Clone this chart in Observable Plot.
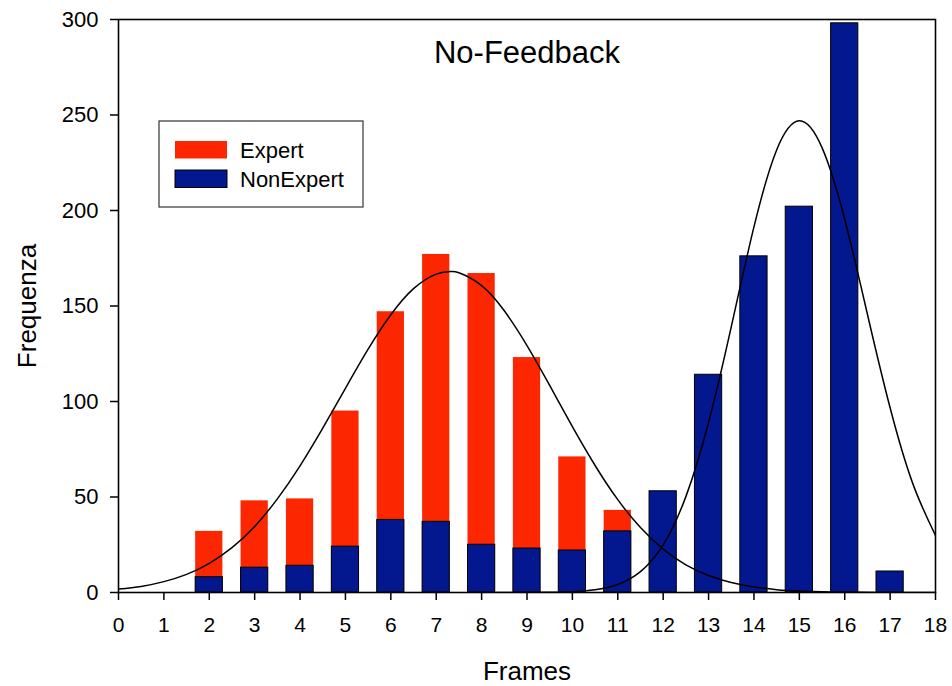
<!DOCTYPE html>
<html><head><meta charset="utf-8">
<script src="https://cdn.jsdelivr.net/npm/d3@7"></script>
<script src="https://cdn.jsdelivr.net/npm/@observablehq/plot@0.6"></script>
<style>body{margin:0;background:#fff;} #chart{width:952px;height:686px}</style>
</head><body><div id="chart"></div>
<script>
// ---- data ----
const title = "No-Feedback";
const xLabel = "Frames";
const yLabel = "Frequenza";
const seriesNames = ["Expert", "NonExpert"];
const xTicks = [0,1,2,3,4,5,6,7,8,9,10,11,12,13,14,15,16,17,18];
const yTicks = [0,50,100,150,200,250,300];

const expertFrames = [2,3,4,5,6,7,8,9,10,11];
const expertCounts = [32,48,49,95,147,177,167,123,71,43];
const nonExpertFrames = [2,3,4,5,6,7,8,9,10,11,12,13,14,15,16,17];
const nonExpertCounts = [8,13,14,24,38,37,25,23,22,32,53,114,176,202,298,11];

// fitted curves
const expertFitX = [0,0.5,1,1.5,2,2.5,3,3.5,4,4.5,5,5.5,6,6.5,7,7.3,7.5,8,8.5,9,9.5,10,10.5,11,11.5,12,12.5,13,13.5,14,14.5,15,15.5,16,17,18];
const expertFitY = [1.8,3.2,5.7,9.5,15.3,23.5,34.6,49,66.3,86,106.9,127.4,145.4,159.1,166.7,168,167.4,160.7,147.5,129.3,108.4,86.8,66.5,48.6,34,22.7,14.5,8.9,5.2,2.9,1.5,0.8,0.4,0.2,0.03,0];
const nonExpertFitX = [8,9,9.5,10,10.5,11,11.5,12,12.5,13,13.5,14,14.5,15,15.5,16,16.5,17,17.5,18];
const nonExpertFitY = [0,0.03,0.1,0.4,1.4,4.2,10.9,24.9,50.2,89,139.1,191.4,231.7,247,232.9,195.4,145.7,96.7,57,29.9];

// ---- tables for the library ----
const expertData = expertFrames.map((f, i) => ({frame: f, count: expertCounts[i]}));
const nonExpertData = nonExpertFrames.map((f, i) => ({frame: f, count: nonExpertCounts[i]}));
const expertFit = expertFitX.map((x, i) => ({x, y: expertFitY[i]}));
const nonExpertFit = nonExpertFitX.map((x, i) => ({x, y: nonExpertFitY[i]}));

const RED = "#fc2700";
const BLUE = "#03188f";
const half = 0.3; // half bar width in frame units
const FONT = "'Liberation Sans', Arial, sans-serif";

const plot = Plot.plot({
  width: 952, height: 686,
  marginLeft: 118, marginRight: 17, marginTop: 19, marginBottom: 94,
  x: {domain: [0, 18]},
  y: {domain: [0, 300]},
  style: {fontFamily: FONT, fontSize: "21px", color: "black", background: "white", overflow: "visible"},
  marks: [
    Plot.rectY(expertData, {x1: d => d.frame - half, x2: d => d.frame + half, y1: 0, y2: "count", fill: RED}),
    Plot.rectY(nonExpertData, {x1: d => d.frame - half, x2: d => d.frame + half, y1: 0, y2: "count", fill: BLUE, stroke: "black", strokeWidth: 1}),
    Plot.line(expertFit, {x: "x", y: "y", curve: "natural", stroke: "black", strokeWidth: 1.5, clip: true}),
    Plot.line(nonExpertFit, {x: "x", y: "y", curve: "natural", stroke: "black", strokeWidth: 1.5, clip: true}),
    Plot.frame({stroke: "black", strokeWidth: 1.6}),
    Plot.axisX({ticks: xTicks, tickFormat: d => String(d), tickSize: 8, tickPadding: 17, strokeWidth: 1.5, label: null}),
    Plot.axisY({ticks: yTicks, tickFormat: d => String(d), tickSize: 8, tickPadding: 12, strokeWidth: 1.5, label: null}),
    Plot.text([title], {frameAnchor: "top", lineAnchor: "middle", textAnchor: "middle", dy: 34, fontSize: 31, fill: "black"}),
    Plot.text([xLabel], {frameAnchor: "bottom", lineAnchor: "middle", textAnchor: "middle", dy: 79, fontSize: 26, fill: "black"}),
    Plot.text([yLabel], {frameAnchor: "left", lineAnchor: "middle", textAnchor: "middle", dx: -91, rotate: -90, fontSize: 26, fill: "black"})
  ]
});

const svg = d3.select(plot);
// tick label sizes
svg.selectAll('g[aria-label="x-axis tick label"]').attr("font-size", 21);
svg.selectAll('g[aria-label="y-axis tick label"]').attr("font-size", 22);

// legend
const lg = svg.append("g").attr("font-family", FONT).attr("text-anchor", "start");
lg.append("rect").attr("x", 159).attr("y", 121).attr("width", 204).attr("height", 86)
  .attr("fill", "white").attr("stroke", "#333").attr("stroke-width", 1.2);
const swatchColors = [RED, BLUE];
const swatchY = [141, 170];
seriesNames.forEach((name, i) => {
  lg.append("rect").attr("x", 175).attr("y", swatchY[i]).attr("width", 52).attr("height", 17.5)
    .attr("fill", swatchColors[i]).attr("stroke", i === 1 ? "black" : "none").attr("stroke-width", 1);
  lg.append("text").attr("x", 240).attr("y", swatchY[i] + 17).attr("font-size", 22)
    .attr("text-anchor", "start").attr("fill", "black").text(name);
});

document.getElementById("chart").appendChild(plot);
</script>
</body></html>
